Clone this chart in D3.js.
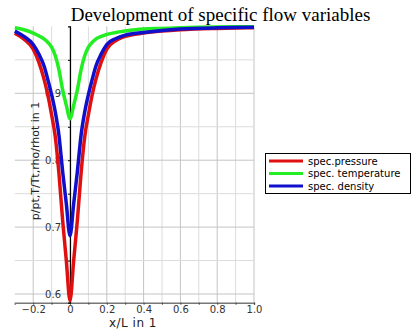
<!DOCTYPE html>
<html>
<head>
<meta charset="utf-8">
<script src="https://cdn.jsdelivr.net/npm/d3@7"></script>
<style>
body { margin: 0; background: #fff; }
svg { display: block; }
</style>
</head>
<body>
<svg id="chart" width="414" height="333"></svg>
<script>
// x positions (x/L) where the curves were read
var xPos = [-0.3, -0.25, -0.2, -0.17, -0.14, -0.12, -0.1, -0.08, -0.06, -0.04, -0.02, 0,
            0.02, 0.04, 0.06, 0.08, 0.1, 0.12, 0.14, 0.17, 0.2, 0.25, 0.3, 0.4, 0.5, 0.6, 0.8, 1.0]

var pressure    = [0.99, 0.981, 0.966, 0.947, 0.92, 0.897, 0.868, 0.835, 0.78, 0.71, 0.65, 0.59,
                   0.65, 0.71, 0.78, 0.835, 0.868, 0.897, 0.92, 0.947, 0.966, 0.979, 0.985, 0.99, 0.993, 0.995, 0.997, 0.998]
var temperature = [0.998, 0.995, 0.99, 0.986, 0.981, 0.976, 0.969, 0.956, 0.935, 0.905, 0.882, 0.862,
                   0.882, 0.905, 0.935, 0.956, 0.969, 0.976, 0.981, 0.985, 0.988, 0.991, 0.993, 0.996, 0.997, 0.998, 0.9991, 0.9994]
var density     = [0.993, 0.985, 0.973, 0.959, 0.94, 0.92, 0.898, 0.872, 0.837, 0.783, 0.735, 0.687,
                   0.735, 0.783, 0.837, 0.872, 0.898, 0.92, 0.94, 0.959, 0.973, 0.982, 0.987, 0.991, 0.994, 0.996, 0.9979, 0.9986]

var seriesNames = ["spec.pressure", "spec. temperature", "spec. density"]
var seriesColors = ["#e01010", "#22ee22", "#1010cc"]

var xTicks = [-0.2, 0, 0.2, 0.4, 0.6, 0.8, 1.0]
var yTicks = [0.6, 0.7, 0.8, 0.9]

var svg = d3.select("#chart")

var xScale = d3.scaleLinear().domain([-0.3, 1.0]).range([14.8, 254])
var yScale = d3.scaleLinear().domain([0.587, 1.0]).range([302.7, 26.4])

// grid
var grid = svg.append("g").attr("id", "grid")
grid.selectAll("line.v")
    .data(d3.range(-2, 11).map(function(d){ return d / 10 }))
    .enter().append("line")
    .attr("x1", function(d){ return xScale(d) })
    .attr("x2", function(d){ return xScale(d) })
    .attr("y1", yScale(1.0))
    .attr("y2", yScale(0.587))
    .attr("stroke", function(d, i){ return i % 2 == 0 ? "#c4c4c4" : "#dcdcdc" })
    .attr("stroke-width", 1)

grid.selectAll("line.h")
    .data(d3.range(12, 20).map(function(d){ return d / 20 }))
    .enter().append("line")
    .attr("x1", xScale(-0.3))
    .attr("x2", xScale(1.0))
    .attr("y1", function(d){ return yScale(d) })
    .attr("y2", function(d){ return yScale(d) })
    .attr("stroke", function(d, i){ return i % 2 == 0 ? "#c4c4c4" : "#dcdcdc" })
    .attr("stroke-width", 1)

// x axis
var xAxis = d3.axisBottom(xScale)
    .tickValues(d3.range(-2, 11).map(function(d){ return d / 10 }))
    .tickSize(2)
    .tickFormat(function(d){ return xTicks.some(function(t){ return Math.abs(t - d) < 1e-9 }) ? d3.format(".1f")(d).replace("0.0", "0") : "" })

var xg = svg.append("g")
    .attr("transform", "translate(0," + yScale(0.587) + ")")
    .call(xAxis)
xg.select(".domain").attr("stroke", "#777").attr("stroke-width", 1.5)
xg.selectAll(".tick line").attr("stroke", "#444")
xg.selectAll(".tick text")
    .attr("fill", "#333")
    .attr("font-family", "DejaVu Sans")
    .attr("font-size", "10px")
    .attr("dy", "0.55em")

// y axis on x = 0
var yAxis = d3.axisLeft(yScale)
    .tickValues(d3.range(12, 20).map(function(d){ return d / 20 }))
    .tickSize(2)
    .tickFormat(function(d){ return yTicks.some(function(t){ return Math.abs(t - d) < 1e-9 }) ? d3.format(".1f")(d) : "" })

var yg = svg.append("g")
    .attr("transform", "translate(" + xScale(0) + ",0)")
    .call(yAxis)
yg.select(".domain").attr("stroke", "#000").attr("stroke-width", 1.2)
yg.selectAll(".tick line").attr("stroke", "#000")
yg.selectAll(".tick text")
    .attr("fill", "#333")
    .attr("font-family", "DejaVu Sans")
    .attr("font-size", "10px")
    .attr("x", -9)

// curves
var line = d3.line()
    .x(function(d){ return xScale(d[0]) })
    .y(function(d){ return yScale(d[1]) })
    .curve(d3.curveMonotoneX)

var allSeries = [pressure, temperature, density]
svg.append("g").attr("id", "curves")
    .selectAll("path")
    .data(allSeries)
    .enter().append("path")
    .attr("d", function(s){ return line(xPos.map(function(x, i){ return [x, s[i]] })) })
    .attr("fill", "none")
    .attr("stroke", function(d, i){ return seriesColors[i] })
    .attr("stroke-width", 3.5)
    .attr("stroke-linejoin", "round")

// titles
svg.append("text")
    .attr("x", 220.5)
    .attr("y", 21)
    .attr("text-anchor", "middle")
    .attr("font-family", "Liberation Serif")
    .attr("font-size", "19px")
    .attr("fill", "#000")
    .text("Development of specific flow variables")

svg.append("text")
    .attr("x", 133)
    .attr("y", 327)
    .attr("text-anchor", "middle")
    .attr("font-family", "DejaVu Sans")
    .attr("font-size", "12px")
    .attr("letter-spacing", "0.5px")
    .attr("fill", "#222")
    .text("x/L in 1")

svg.append("text")
    .attr("transform", "translate(39,161) rotate(-90)")
    .attr("text-anchor", "middle")
    .attr("font-family", "DejaVu Sans")
    .attr("font-size", "11px")
    .attr("fill", "#222")
    .text("p/pt,T/Tt,rho/rhot in 1")

// legend
var legend = svg.append("g").attr("id", "legend")
legend.append("rect")
    .attr("x", 265.5)
    .attr("y", 153.5)
    .attr("width", 145)
    .attr("height", 40)
    .attr("fill", "#fff")
    .attr("stroke", "#000")
    .attr("stroke-width", 1)

seriesNames.map(function(name, i){
    var y = 161 + i * 12.5
    legend.append("line")
        .attr("x1", 269)
        .attr("x2", 303)
        .attr("y1", y)
        .attr("y2", y)
        .attr("stroke", seriesColors[i])
        .attr("stroke-width", 3)
    legend.append("text")
        .attr("x", 308)
        .attr("y", y + 3.5)
        .attr("font-family", "DejaVu Sans")
        .attr("font-size", "10px")
        .attr("fill", "#000")
        .text(name)
})
</script>
</body>
</html>
